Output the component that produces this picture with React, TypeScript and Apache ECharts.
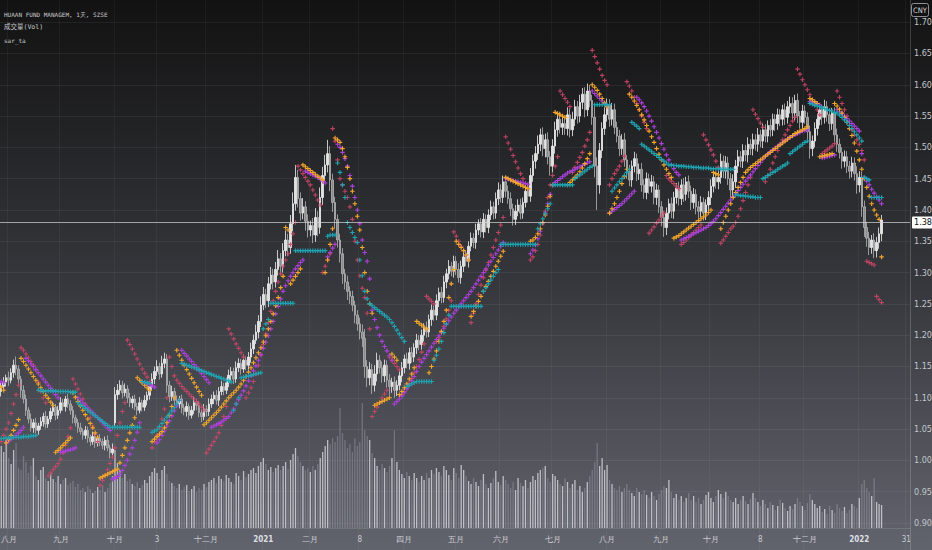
import React, { useEffect, useRef } from "react";
import * as echarts from "echarts";

// ---- price bars (daily) ----
const closes = [
  1.118, 1.125, 1.132, 1.128, 1.140, 1.152, 1.146, 1.130, 1.112, 1.098,
  1.080, 1.066, 1.052, 1.060, 1.048, 1.055, 1.062, 1.070, 1.058, 1.066,
  1.078, 1.085, 1.072, 1.080, 1.092, 1.086, 1.098, 1.090, 1.080, 1.068,
  1.060, 1.052, 1.046, 1.040, 1.048, 1.036, 1.030, 1.038, 1.028, 1.035,
  1.030, 1.024, 1.032, 1.020, 1.012, 1.018, 1.105, 1.112, 1.120, 1.108,
  1.114, 1.100, 1.092, 1.098, 1.086, 1.080, 1.092, 1.085, 1.096, 1.104,
  1.118, 1.130, 1.142, 1.150, 1.138, 1.155, 1.162, 1.120, 1.102, 1.110,
  1.096, 1.090, 1.098, 1.084, 1.078, 1.086, 1.072, 1.080, 1.092, 1.088,
  1.076, 1.070, 1.082, 1.078, 1.090, 1.098, 1.104, 1.096, 1.110, 1.118,
  1.112, 1.124, 1.136, 1.142, 1.130, 1.148, 1.155, 1.146, 1.160, 1.152,
  1.165, 1.178, 1.192, 1.205, 1.222, 1.248, 1.265, 1.255, 1.282, 1.296,
  1.285, 1.305, 1.322, 1.310, 1.335, 1.352, 1.340, 1.378, 1.410, 1.452,
  1.418, 1.395, 1.405, 1.382, 1.368, 1.375, 1.360, 1.388, 1.372, 1.420,
  1.455, 1.472, 1.490, 1.448, 1.412, 1.385, 1.352, 1.330, 1.298, 1.285,
  1.270, 1.262, 1.248, 1.232, 1.218, 1.205, 1.195, 1.150, 1.132, 1.145,
  1.120, 1.138, 1.160, 1.148, 1.135, 1.152, 1.128, 1.118, 1.125, 1.112,
  1.120, 1.135, 1.148, 1.162, 1.155, 1.172, 1.165, 1.180, 1.192, 1.185,
  1.200, 1.212, 1.205, 1.225, 1.240, 1.232, 1.255, 1.268, 1.260, 1.285,
  1.298, 1.310, 1.302, 1.318, 1.305, 1.292, 1.310, 1.325, 1.318, 1.342,
  1.355, 1.348, 1.368, 1.378, 1.365, 1.385, 1.372, 1.392, 1.405, 1.395,
  1.418, 1.432, 1.420, 1.445, 1.430, 1.418, 1.402, 1.385, 1.398, 1.408,
  1.395, 1.412, 1.430, 1.422, 1.455, 1.478, 1.490, 1.505, 1.520, 1.498,
  1.512, 1.485, 1.470, 1.502, 1.528, 1.545, 1.532, 1.538, 1.530, 1.552,
  1.528, 1.545, 1.565, 1.550, 1.572, 1.585, 1.560, 1.590, 1.575, 1.548,
  1.470, 1.440, 1.495, 1.530, 1.552, 1.568, 1.545, 1.560, 1.532, 1.518,
  1.498, 1.512, 1.480, 1.462, 1.448, 1.470, 1.482, 1.458, 1.465, 1.440,
  1.428, 1.450, 1.438, 1.445, 1.420, 1.432, 1.405, 1.388, 1.372, 1.395,
  1.410, 1.398, 1.420, 1.435, 1.418, 1.440, 1.425, 1.445, 1.430, 1.412,
  1.425, 1.405, 1.398, 1.412, 1.395, 1.408, 1.420, 1.438, 1.452, 1.445,
  1.452, 1.478, 1.462, 1.475, 1.450, 1.432, 1.445, 1.470, 1.485, 1.478,
  1.495, 1.488, 1.505, 1.498, 1.512, 1.505, 1.520, 1.510, 1.528, 1.518,
  1.535, 1.528, 1.545, 1.538, 1.552, 1.545, 1.560, 1.548, 1.565, 1.570,
  1.555, 1.575, 1.550, 1.540, 1.558, 1.548, 1.525, 1.498, 1.510, 1.530,
  1.545, 1.560, 1.548, 1.565, 1.552, 1.538, 1.555, 1.520, 1.505, 1.492,
  1.478, 1.485, 1.470, 1.462, 1.475, 1.458, 1.440, 1.452, 1.405, 1.372,
  1.355, 1.340, 1.352, 1.335, 1.348, 1.362, 1.384,
];

const opens = [
  1.110, 1.118, 1.125, 1.132, 1.128, 1.140, 1.152, 1.146, 1.130, 1.112,
  1.098, 1.080, 1.066, 1.052, 1.060, 1.048, 1.055, 1.062, 1.070, 1.058,
  1.066, 1.078, 1.085, 1.072, 1.080, 1.092, 1.086, 1.098, 1.090, 1.080,
  1.068, 1.060, 1.052, 1.046, 1.040, 1.048, 1.036, 1.030, 1.038, 1.028,
  1.035, 1.030, 1.024, 1.032, 1.020, 1.012, 1.060, 1.105, 1.112, 1.120,
  1.108, 1.114, 1.100, 1.092, 1.098, 1.086, 1.080, 1.092, 1.085, 1.096,
  1.104, 1.118, 1.130, 1.142, 1.150, 1.138, 1.155, 1.162, 1.120, 1.102,
  1.110, 1.096, 1.090, 1.098, 1.084, 1.078, 1.086, 1.072, 1.080, 1.092,
  1.088, 1.076, 1.070, 1.082, 1.078, 1.090, 1.098, 1.104, 1.096, 1.110,
  1.118, 1.112, 1.124, 1.136, 1.142, 1.130, 1.148, 1.155, 1.146, 1.160,
  1.152, 1.165, 1.178, 1.192, 1.205, 1.222, 1.248, 1.265, 1.255, 1.282,
  1.296, 1.285, 1.305, 1.322, 1.310, 1.335, 1.352, 1.340, 1.378, 1.410,
  1.452, 1.418, 1.395, 1.405, 1.382, 1.368, 1.375, 1.360, 1.388, 1.372,
  1.420, 1.455, 1.472, 1.490, 1.448, 1.412, 1.385, 1.352, 1.330, 1.298,
  1.285, 1.270, 1.262, 1.248, 1.232, 1.218, 1.205, 1.195, 1.150, 1.132,
  1.145, 1.120, 1.138, 1.160, 1.148, 1.135, 1.152, 1.128, 1.118, 1.125,
  1.112, 1.120, 1.135, 1.148, 1.162, 1.155, 1.172, 1.165, 1.180, 1.192,
  1.185, 1.200, 1.212, 1.205, 1.225, 1.240, 1.232, 1.255, 1.268, 1.260,
  1.285, 1.298, 1.310, 1.302, 1.318, 1.305, 1.292, 1.310, 1.325, 1.318,
  1.342, 1.355, 1.348, 1.368, 1.378, 1.365, 1.385, 1.372, 1.392, 1.405,
  1.395, 1.418, 1.432, 1.420, 1.445, 1.430, 1.418, 1.402, 1.385, 1.398,
  1.408, 1.395, 1.412, 1.430, 1.422, 1.455, 1.478, 1.490, 1.505, 1.520,
  1.498, 1.512, 1.485, 1.470, 1.502, 1.528, 1.545, 1.532, 1.538, 1.530,
  1.552, 1.528, 1.545, 1.565, 1.550, 1.572, 1.585, 1.560, 1.590, 1.575,
  1.548, 1.470, 1.440, 1.495, 1.530, 1.552, 1.568, 1.545, 1.560, 1.532,
  1.518, 1.498, 1.512, 1.480, 1.462, 1.448, 1.470, 1.482, 1.458, 1.465,
  1.440, 1.428, 1.450, 1.438, 1.445, 1.420, 1.432, 1.405, 1.388, 1.372,
  1.395, 1.410, 1.398, 1.420, 1.435, 1.418, 1.440, 1.425, 1.445, 1.430,
  1.412, 1.425, 1.405, 1.398, 1.412, 1.395, 1.408, 1.420, 1.438, 1.452,
  1.445, 1.452, 1.478, 1.462, 1.475, 1.450, 1.432, 1.445, 1.470, 1.485,
  1.478, 1.495, 1.488, 1.505, 1.498, 1.512, 1.505, 1.520, 1.510, 1.528,
  1.518, 1.535, 1.528, 1.545, 1.538, 1.552, 1.545, 1.560, 1.548, 1.565,
  1.570, 1.555, 1.575, 1.550, 1.540, 1.558, 1.548, 1.525, 1.498, 1.510,
  1.530, 1.545, 1.560, 1.548, 1.565, 1.552, 1.538, 1.555, 1.520, 1.505,
  1.492, 1.478, 1.485, 1.470, 1.462, 1.475, 1.458, 1.440, 1.452, 1.405,
  1.372, 1.355, 1.340, 1.352, 1.335, 1.348, 1.362,
];

// upper / lower wick lengths, in thousandths of CNY
const wickHi = [
  6, 8, 5, 10, 7, 9, 14, 6, 5, 8, 7, 5, 9, 6, 8, 5, 7, 6, 9, 5,
  6, 8, 5, 7, 9, 6, 5, 8, 6, 7, 5, 6, 8, 5, 7, 6, 5, 8, 6, 5,
  7, 5, 6, 8, 5, 9, 12, 10, 8, 7, 9, 6, 8, 5, 7, 6, 9, 5, 8, 6,
  7, 9, 8, 10, 6, 12, 10, 8, 7, 9, 6, 8, 5, 7, 6, 8, 5, 7, 9, 6,
  7, 5, 8, 6, 9, 7, 6, 8, 7, 9, 6, 8, 9, 7, 6, 10, 8, 7, 9, 6,
  8, 10, 9, 12, 10, 14, 12, 9, 11, 13, 10, 12, 14, 9, 12, 15, 10, 14, 18, 20,
  12, 10, 14, 9, 11, 8, 12, 15, 10, 16, 14, 16, 22, 12, 10, 9, 8, 10, 9, 8,
  10, 8, 9, 7, 8, 10, 12, 15, 10, 12, 9, 14, 12, 8, 10, 9, 8, 10, 7, 9,
  8, 10, 9, 7, 10, 8, 9, 7, 10, 8, 9, 7, 10, 8, 9, 7, 10, 8, 9, 10,
  8, 10, 7, 9, 8, 10, 9, 7, 10, 8, 9, 8, 10, 7, 9, 10, 8, 9, 10, 8,
  10, 12, 9, 10, 8, 9, 10, 8, 10, 9, 10, 8, 9, 10, 12, 10, 12, 14, 10, 12,
  10, 12, 9, 11, 13, 10, 12, 10, 9, 12, 10, 12, 11, 9, 12, 10, 11, 12, 10, 9,
  20, 14, 12, 10, 12, 10, 9, 11, 10, 9, 10, 9, 11, 8, 10, 9, 11, 8, 9, 10,
  9, 10, 8, 11, 9, 10, 8, 9, 10, 9, 8, 10, 9, 8, 10, 9, 11, 8, 10, 9,
  10, 8, 9, 10, 8, 9, 10, 11, 12, 9, 10, 12, 9, 11, 10, 9, 12, 10, 11, 9,
  10, 9, 11, 8, 10, 9, 11, 8, 10, 9, 8, 10, 9, 8, 10, 9, 8, 10, 9, 11,
  10, 9, 11, 8, 10, 9, 8, 10, 9, 10, 9, 10, 8, 11, 9, 10, 8, 9, 10, 9,
  8, 10, 9, 8, 10, 9, 12, 10, 9, 10, 9, 10, 8, 11, 9, 10, 8,
];

const wickLo = [
  8, 6, 7, 9, 5, 8, 10, 9, 12, 7, 9, 7, 6, 8, 5, 7, 6, 8, 7, 6,
  5, 7, 8, 6, 5, 7, 8, 6, 7, 9, 6, 8, 5, 7, 6, 8, 7, 5, 8, 6,
  7, 6, 8, 5, 9, 8, 6, 8, 7, 9, 6, 8, 7, 9, 6, 8, 5, 7, 6, 8,
  7, 6, 8, 7, 9, 6, 8, 12, 9, 7, 8, 6, 7, 9, 6, 8, 7, 5, 6, 8,
  7, 9, 6, 8, 7, 6, 8, 7, 9, 6, 8, 6, 7, 9, 8, 6, 7, 9, 6, 8,
  7, 9, 8, 6, 10, 9, 8, 12, 10, 9, 12, 9, 10, 13, 10, 9, 14, 10, 12, 11,
  14, 12, 10, 15, 12, 10, 13, 11, 14, 10, 12, 10, 12, 18, 15, 14, 12, 14, 16, 12,
  14, 12, 10, 13, 11, 12, 14, 18, 15, 12, 14, 10, 12, 9, 11, 10, 12, 14, 10, 12,
  9, 8, 10, 9, 8, 10, 9, 8, 10, 9, 8, 10, 9, 8, 10, 9, 8, 10, 9, 8,
  10, 9, 8, 10, 9, 8, 10, 9, 8, 10, 8, 9, 10, 8, 9, 10, 8, 9, 8, 10,
  9, 10, 8, 9, 10, 8, 12, 10, 9, 8, 10, 9, 8, 10, 9, 10, 12, 10, 11, 12,
  14, 12, 15, 10, 12, 11, 10, 12, 10, 11, 12, 10, 11, 12, 10, 11, 12, 10, 11, 12,
  18, 40, 14, 12, 10, 11, 12, 10, 11, 10, 12, 10, 11, 12, 10, 11, 10, 12, 10, 11,
  10, 11, 12, 10, 11, 12, 10, 14, 15, 12, 10, 11, 12, 10, 11, 10, 12, 10, 11, 12,
  10, 12, 11, 10, 12, 11, 10, 12, 10, 11, 12, 10, 11, 12, 10, 14, 12, 10, 11, 10,
  11, 10, 12, 10, 11, 10, 12, 10, 11, 10, 10, 11, 10, 12, 10, 11, 10, 12, 10, 11,
  10, 12, 11, 10, 12, 10, 14, 16, 12, 10, 11, 10, 12, 10, 11, 12, 10, 14, 12, 10,
  12, 10, 11, 12, 10, 11, 14, 12, 16, 15, 14, 12, 10, 12, 11, 10, 12,
];

// 成交量 (Vol), in 10k lots
const volumes = [
  82, 76, 88, 70, 64, 78, 85, 60, 58, 72,
  66, 55, 62, 70, 52, 48, 58, 61, 50, 47,
  55, 49, 46, 52, 44, 48, 50, 43, 45, 47,
  41, 44, 38, 40, 36, 42, 39, 35, 37, 41,
  38, 43, 36, 40, 45, 52, 78, 65, 58, 50,
  54, 47, 49, 44, 42, 46, 40, 43, 48, 45,
  52, 56, 60, 55, 49, 58, 62, 54, 47, 45,
  42, 40, 44, 38, 41, 43, 37, 39, 42, 36,
  40, 38, 44, 41, 46, 48, 50, 45, 52, 49,
  47, 53, 50, 46, 44, 55, 52, 48, 57, 51,
  54, 58, 60, 55, 62, 66, 70, 64, 58, 61,
  56, 60, 63, 58, 62, 66, 59, 68, 74, 80,
  72, 66, 62, 58, 60, 56, 62, 58, 64, 70,
  76, 82, 88, 84, 90, 86, 92, 120, 95, 88,
  80, 84, 76, 90, 82, 86, 125, 98, 92, 88,
  75, 70, 62, 58, 64, 60, 56, 62, 70, 98,
  66, 58, 54, 50, 56, 52, 48, 55, 50, 46,
  52, 48, 55, 50, 58, 54, 60, 56, 52, 62,
  58, 53, 48, 60, 55, 50, 63, 58, 52, 47,
  44, 50, 46, 42, 48, 54, 44, 40, 45, 50,
  57, 46, 43, 52, 48, 44, 40, 46, 38, 50,
  45, 42, 48, 40, 46, 52, 48, 55, 58, 60,
  62, 50, 46, 54, 52, 48, 44, 42, 50, 46,
  40, 44, 48, 38, 42, 36, 40, 46, 52, 58,
  66, 85, 62, 70, 58, 63, 48, 44, 40, 38,
  42, 36, 40, 44, 38, 35, 32, 40, 36, 34,
  38, 33, 30, 36, 32, 28, 34, 38, 42, 40,
  48, 36, 30, 34, 28, 32, 26, 30, 35, 28,
  32, 26, 30, 24, 28, 33, 36, 30, 26, 32,
  38, 34, 30, 36, 32, 28, 26, 30, 24, 28,
  32, 27, 24, 29, 35, 30, 26, 22, 28, 24,
  20, 26, 23, 18, 22, 28, 25, 20, 17, 22,
  19, 24, 30, 26, 22, 18, 25, 34, 28, 24,
  20, 22, 16, 19, 14, 22, 18, 15, 24, 20,
  17, 21, 15, 18, 24, 22, 20, 30, 44, 48,
  40, 36, 32, 50, 26, 24, 23,
];

// time axis: bar index of each label and its text
const tickIdx = [3, 24, 46, 63, 83, 106, 125, 145, 163, 184, 202, 223, 245, 267, 287, 307, 325, 347, 366];
const tickText = ["八月", "九月", "十月", "3", "十二月", "2021", "二月", "8", "四月", "五月", "六月", "七月", "八月", "九月", "十月", "8", "十二月", "2022", "31"];
const categoryCount = 368;
// price-axis labels that are shown (range of the visible scale)
const priceLabelMin = 0.9;
const priceLabelMax = 1.7;

// sar_ta: runs of [first bar index, values...]
const sarRedRuns: [number, number[]][] = [
  [0, [1.030, 1.040, 1.050, 1.060, 1.075, 1.090, 1.105, 1.120]],
  [8, [1.180, 1.176, 1.170, 1.164, 1.158, 1.152, 1.145, 1.125, 1.110, 1.100, 1.092]],
  [19, [0.975, 0.980, 0.985, 0.990, 0.995, 1.002, 1.012, 1.024, 1.038, 1.052]],
  [29, [1.130, 1.122, 1.114, 1.106, 1.098, 1.090, 1.080, 1.068, 1.055, 1.042, 1.030]],
  [40, [0.960, 0.968, 0.976, 0.985, 0.995, 1.005, 1.020, 1.040, 1.060, 1.078, 1.092]],
  [51, [1.192, 1.185, 1.178, 1.170, 1.162, 1.154, 1.146, 1.139, 1.133, 1.126]],
  [61, [1.020, 1.030, 1.040, 1.052, 1.066, 1.082, 1.100]],
  [68, [1.165, 1.150, 1.135, 1.128, 1.123, 1.118, 1.114, 1.110, 1.106, 1.102, 1.098, 1.094, 1.090, 1.085, 1.080]],
  [83, [1.012, 1.018, 1.024, 1.030, 1.037, 1.044, 1.056, 1.070, 1.086]],
  [92, [1.210, 1.202, 1.194, 1.186, 1.179, 1.172, 1.165]],
  [99, [1.100, 1.108, 1.116, 1.126, 1.138, 1.152, 1.168, 1.185, 1.202, 1.220, 1.238, 1.255, 1.270, 1.285, 1.298, 1.310, 1.320, 1.330, 1.345, 1.362, 1.380]],
  [120, [1.470, 1.464, 1.458, 1.452, 1.446, 1.440, 1.432, 1.424, 1.416, 1.408]],
  [130, [1.300, 1.310, 1.320, 1.330]],
  [134, [1.530, 1.510, 1.480, 1.450, 1.440, 1.430, 1.420, 1.405, 1.385, 1.350, 1.320, 1.295, 1.275, 1.260, 1.235, 1.210]],
  [150, [1.070, 1.078, 1.085, 1.092, 1.100, 1.106, 1.112]],
  [157, [1.165, 1.160, 1.155, 1.150, 1.145]],
  [162, [1.105, 1.110, 1.116, 1.123, 1.131, 1.140, 1.150, 1.161, 1.173, 1.186]],
  [172, [1.262, 1.258, 1.254, 1.250]],
  [176, [1.190, 1.196, 1.204, 1.214, 1.226, 1.240, 1.255]],
  [183, [1.365, 1.358, 1.350, 1.342, 1.335, 1.328, 1.320]],
  [190, [1.220, 1.235, 1.250, 1.265, 1.280, 1.292, 1.304, 1.316, 1.328, 1.340, 1.352, 1.364, 1.376, 1.388]],
  [204, [1.517, 1.507, 1.497, 1.487, 1.477, 1.467, 1.458, 1.450, 1.442, 1.434]],
  [214, [1.320, 1.325, 1.335, 1.345, 1.360, 1.378, 1.398, 1.420, 1.440, 1.455, 1.470, 1.485]],
  [226, [1.590, 1.584, 1.578, 1.572, 1.565]],
  [231, [1.460, 1.468, 1.476, 1.484, 1.492, 1.502, 1.512, 1.524]],
  [239, [1.655, 1.645, 1.635, 1.625, 1.615, 1.607, 1.600]],
  [246, [1.440, 1.450, 1.458, 1.464, 1.470, 1.478, 1.486]],
  [253, [1.605, 1.598, 1.590, 1.580, 1.570, 1.560, 1.550, 1.540, 1.530]],
  [262, [1.363, 1.368, 1.373, 1.379, 1.384, 1.390, 1.395]],
  [269, [1.455, 1.450, 1.446, 1.442, 1.438, 1.434]],
  [275, [1.345, 1.348, 1.352, 1.356, 1.360, 1.364, 1.368, 1.372, 1.376]],
  [284, [1.520, 1.512, 1.504, 1.496, 1.488, 1.478, 1.468]],
  [291, [1.347, 1.352, 1.358, 1.364, 1.370, 1.374, 1.380, 1.390, 1.402, 1.415, 1.428, 1.440, 1.452]],
  [304, [1.560, 1.553, 1.546, 1.539, 1.532]],
  [309, [1.445, 1.455, 1.465, 1.475, 1.485, 1.495, 1.505, 1.512, 1.520, 1.528, 1.535, 1.542, 1.548]],
  [322, [1.625, 1.617, 1.608, 1.600, 1.592, 1.584, 1.576, 1.568, 1.560, 1.552]],
  [332, [1.490, 1.493, 1.496, 1.499, 1.502, 1.506]],
  [338, [1.590, 1.580, 1.570, 1.560, 1.550, 1.535, 1.528, 1.520, 1.512, 1.505, 1.495, 1.480]],
  [350, [1.318, 1.316, 1.314, 1.312, 1.262, 1.257, 1.252]],
];

const sarPurpleRuns: [number, number[]][] = [
  [0, [1.126, 1.124]],
  [2, [1.028, 1.031, 1.034, 1.037, 1.040, 1.044, 1.048, 1.053]],
  [10, [1.163, 1.159, 1.154, 1.150, 1.145, 1.140, 1.135, 1.130, 1.125, 1.120, 1.115, 1.110, 1.105, 1.100]],
  [24, [1.013, 1.014, 1.015, 1.016, 1.017, 1.018, 1.020]],
  [31, [1.100, 1.096, 1.092, 1.088, 1.084, 1.080, 1.076, 1.072, 1.068, 1.064, 1.060, 1.056, 1.052, 1.048]],
  [45, [0.970, 0.972, 0.974, 0.978, 0.984, 0.992, 1.000, 1.010, 1.020, 1.032, 1.045, 1.060]],
  [57, [1.125, 1.124, 1.122, 1.121, 1.119, 1.117]],
  [63, [1.028, 1.033, 1.040, 1.047, 1.055, 1.063, 1.071, 1.079, 1.087, 1.096]],
  [73, [1.176, 1.171, 1.167, 1.162, 1.158, 1.153, 1.149, 1.144, 1.139, 1.134, 1.129, 1.124]],
  [85, [1.053, 1.055, 1.057, 1.059, 1.061, 1.064, 1.067, 1.070, 1.076, 1.082, 1.090, 1.097, 1.104, 1.111, 1.119, 1.127, 1.135, 1.143, 1.151, 1.160, 1.169, 1.179, 1.189, 1.199, 1.210, 1.222, 1.234, 1.246, 1.258, 1.270, 1.279, 1.287, 1.294, 1.300, 1.306, 1.311, 1.316, 1.320]],
  [123, [1.462, 1.460, 1.458, 1.456, 1.454, 1.452, 1.449, 1.446, 1.443]],
  [132, [1.325, 1.332, 1.339, 1.345]],
  [136, [1.505, 1.500, 1.492, 1.482, 1.470, 1.455, 1.438, 1.420, 1.400, 1.378, 1.352, 1.332, 1.318, 1.290, 1.240, 1.225, 1.212, 1.200, 1.190, 1.182, 1.175, 1.168, 1.160]],
  [159, [1.090, 1.094, 1.098, 1.103, 1.108, 1.114, 1.120, 1.127, 1.134, 1.142, 1.150, 1.157, 1.163, 1.169, 1.175, 1.181, 1.187, 1.193, 1.199, 1.205, 1.211, 1.217, 1.223, 1.229, 1.235, 1.240, 1.245, 1.250, 1.255, 1.260, 1.265, 1.270, 1.276, 1.282, 1.288, 1.294, 1.300, 1.306, 1.312, 1.318, 1.324, 1.330, 1.336, 1.342, 1.348]],
  [204, [1.450, 1.449, 1.448, 1.447, 1.446, 1.445, 1.444, 1.443, 1.442, 1.441]],
  [214, [1.330, 1.336, 1.344, 1.354, 1.366, 1.380, 1.395, 1.410, 1.425, 1.440, 1.444, 1.447, 1.450, 1.453, 1.456, 1.459, 1.461, 1.463, 1.465, 1.467, 1.469, 1.471, 1.473, 1.475, 1.477]],
  [239, [1.590, 1.586, 1.582, 1.578, 1.574, 1.570, 1.566]],
  [246, [1.395, 1.398, 1.401, 1.404, 1.407, 1.410, 1.414, 1.418, 1.422, 1.426, 1.430]],
  [257, [1.580, 1.576, 1.571, 1.565, 1.558, 1.550, 1.542, 1.533, 1.524, 1.515, 1.506, 1.497, 1.488, 1.480, 1.472, 1.466, 1.460, 1.456]],
  [275, [1.352, 1.354, 1.356, 1.358, 1.360, 1.362, 1.364, 1.366, 1.368, 1.370, 1.372, 1.375, 1.378, 1.382, 1.386, 1.391, 1.396, 1.401, 1.406, 1.411, 1.416, 1.421, 1.426, 1.431, 1.436, 1.441, 1.446, 1.451, 1.456, 1.461, 1.466, 1.471, 1.476, 1.481, 1.486, 1.490, 1.493, 1.496, 1.499, 1.502, 1.505, 1.508, 1.511, 1.514, 1.516, 1.518, 1.520, 1.522, 1.524, 1.526, 1.527, 1.528]],
  [327, [1.573, 1.572, 1.571, 1.570, 1.568]],
  [332, [1.483, 1.484, 1.485, 1.486, 1.487, 1.488]],
  [338, [1.560, 1.557, 1.554, 1.550, 1.546, 1.542, 1.538, 1.534, 1.530, 1.526, 1.490, 1.452, 1.446, 1.440, 1.433, 1.427, 1.421, 1.416, 1.410]],
];

const sarOrangeRuns: [number, number[]][] = [
  [0, [1.117, 1.112]],
  [2, [1.028, 1.033, 1.040, 1.048, 1.056, 1.065]],
  [8, [1.163, 1.158, 1.152, 1.146, 1.140, 1.134, 1.128, 1.122, 1.116, 1.110, 1.104, 1.099, 1.093, 1.088]],
  [22, [1.013, 1.016, 1.020, 1.024, 1.028, 1.032, 1.036]],
  [29, [1.108, 1.101, 1.094, 1.087, 1.080, 1.073, 1.066, 1.059, 1.052, 1.044, 1.037]],
  [40, [0.972, 0.974, 0.976, 0.978, 0.980, 0.982, 0.984, 0.986, 0.996, 1.008, 1.020, 1.032, 1.044, 1.056, 1.068]],
  [55, [1.132, 1.128, 1.124, 1.120, 1.116, 1.112]],
  [61, [1.030, 1.034, 1.038, 1.042, 1.046, 1.052, 1.060, 1.072, 1.086, 1.100]],
  [71, [1.176, 1.168, 1.160, 1.152, 1.145, 1.138, 1.131, 1.124, 1.117, 1.110, 1.104]],
  [82, [1.057, 1.060, 1.064, 1.068, 1.072, 1.076, 1.080, 1.085, 1.090, 1.095, 1.100, 1.104, 1.108, 1.112, 1.117, 1.122, 1.128, 1.134, 1.141, 1.148, 1.156, 1.164, 1.172, 1.180, 1.189, 1.199, 1.210, 1.222, 1.234, 1.247, 1.260, 1.276, 1.294]],
  [115, [1.372, 1.368]],
  [117, [1.282, 1.288, 1.294, 1.300, 1.306]],
  [122, [1.472, 1.469, 1.466, 1.463, 1.460, 1.457, 1.454, 1.451, 1.448]],
  [131, [1.300, 1.320, 1.345, 1.370]],
  [135, [1.515, 1.512, 1.508, 1.498, 1.485, 1.468, 1.450, 1.430, 1.410, 1.390, 1.368, 1.340, 1.300, 1.270, 1.250, 1.235]],
  [151, [1.088, 1.090, 1.092, 1.094, 1.096, 1.098, 1.100]],
  [158, [1.170, 1.165, 1.160]],
  [161, [1.105, 1.110, 1.116, 1.122, 1.130, 1.138, 1.148]],
  [168, [1.222, 1.219, 1.216, 1.213, 1.210]],
  [173, [1.140, 1.150, 1.162, 1.175, 1.190, 1.206, 1.222, 1.240, 1.260, 1.282, 1.305]],
  [184, [1.350, 1.345, 1.340, 1.335, 1.328, 1.320]],
  [190, [1.230, 1.238, 1.246, 1.254, 1.262, 1.270, 1.278, 1.286, 1.294, 1.302, 1.310, 1.318, 1.326, 1.334]],
  [204, [1.452, 1.450, 1.448, 1.446, 1.444, 1.442, 1.440, 1.438, 1.436, 1.434]],
  [214, [1.350, 1.352, 1.356, 1.362, 1.370, 1.380, 1.392, 1.406, 1.422, 1.440]],
  [224, [1.556, 1.554, 1.552, 1.550, 1.548]],
  [229, [1.440, 1.444, 1.448, 1.452, 1.456, 1.461, 1.467, 1.474, 1.482, 1.490]],
  [239, [1.600, 1.596, 1.591, 1.585, 1.578, 1.571, 1.565]],
  [246, [1.395, 1.402, 1.410, 1.420, 1.430, 1.442, 1.453, 1.465]],
  [254, [1.585, 1.580, 1.574, 1.567, 1.560, 1.552, 1.544, 1.535, 1.526, 1.517, 1.508, 1.498, 1.489, 1.480, 1.472, 1.465, 1.458, 1.452]],
  [272, [1.355, 1.357, 1.359, 1.362, 1.365, 1.368, 1.371, 1.374, 1.377, 1.380, 1.383, 1.386, 1.389, 1.392, 1.396, 1.400]],
  [288, [1.460, 1.458, 1.456]],
  [291, [1.370, 1.380, 1.390, 1.400, 1.410, 1.420, 1.428, 1.436, 1.444, 1.452, 1.460, 1.464, 1.468, 1.471, 1.474, 1.477, 1.480, 1.483, 1.486, 1.489, 1.492, 1.495, 1.498, 1.501, 1.504, 1.507, 1.510, 1.513, 1.516, 1.519, 1.522, 1.524, 1.526, 1.528, 1.530, 1.533]],
  [327, [1.578, 1.576, 1.573, 1.570]],
  [331, [1.485, 1.486, 1.487, 1.488, 1.489, 1.490]],
  [337, [1.570, 1.566, 1.561, 1.555, 1.548, 1.540, 1.530, 1.519, 1.507, 1.494, 1.480, 1.465, 1.450, 1.436, 1.422, 1.410, 1.400, 1.392, 1.385]],
  [356, [1.325]],
];

const sarTealRuns: [number, number[]][] = [
  [0, [1.035, 1.035, 1.036, 1.036, 1.036, 1.037, 1.037, 1.037, 1.037, 1.038, 1.038, 1.038, 1.039, 1.039, 1.040]],
  [15, [1.112, 1.112, 1.111, 1.111, 1.111, 1.111, 1.111, 1.111, 1.110, 1.110, 1.110, 1.110, 1.110, 1.109, 1.109, 1.109]],
  [31, [1.092, 1.089, 1.086, 1.083, 1.080, 1.077, 1.074, 1.071, 1.068, 1.065, 1.062, 1.059, 1.056, 1.053]],
  [45, [1.053, 1.053, 1.053, 1.053, 1.053, 1.053, 1.053, 1.053, 1.053, 1.053, 1.053, 1.053]],
  [57, [1.126, 1.125, 1.124, 1.123]],
  [61, [1.045, 1.047, 1.049, 1.054, 1.059, 1.064, 1.069, 1.074, 1.079, 1.084, 1.090, 1.096]],
  [73, [1.155, 1.154, 1.152, 1.151, 1.149, 1.148, 1.146, 1.145, 1.143, 1.142, 1.140, 1.139, 1.137, 1.136, 1.134, 1.133, 1.131, 1.130, 1.128, 1.127, 1.125]],
  [94, [1.080, 1.090, 1.100, 1.132, 1.133, 1.134, 1.135, 1.136, 1.137, 1.138, 1.139, 1.140]],
  [106, [1.210, 1.218, 1.225]],
  [109, [1.251, 1.251, 1.251, 1.251, 1.251, 1.251, 1.251, 1.251, 1.251, 1.251]],
  [119, [1.335, 1.335, 1.335, 1.335, 1.335, 1.335, 1.335, 1.335, 1.335, 1.335, 1.335, 1.335, 1.335]],
  [132, [1.358, 1.360, 1.360, 1.360]],
  [136, [1.475, 1.460, 1.440, 1.420, 1.380, 1.372, 1.364, 1.356, 1.348, 1.320, 1.295, 1.270, 1.258, 1.250, 1.247, 1.244, 1.241, 1.238, 1.235, 1.232, 1.229, 1.225, 1.220, 1.214, 1.208, 1.202, 1.196, 1.190]],
  [164, [1.118, 1.120, 1.122, 1.124, 1.126, 1.126, 1.126, 1.126, 1.126, 1.126, 1.126, 1.160]],
  [176, [1.168, 1.178, 1.190, 1.204, 1.218, 1.232, 1.246, 1.246, 1.246, 1.246, 1.246, 1.246, 1.246, 1.246, 1.246, 1.246, 1.246, 1.246, 1.246]],
  [195, [1.270, 1.276, 1.282, 1.288, 1.294, 1.300, 1.305]],
  [202, [1.345, 1.345, 1.345, 1.345, 1.345, 1.345, 1.345, 1.345, 1.345, 1.345, 1.345, 1.345, 1.345, 1.345, 1.345]],
  [217, [1.370, 1.378, 1.386, 1.394, 1.402, 1.410]],
  [223, [1.440, 1.440, 1.440, 1.440, 1.440, 1.440, 1.440, 1.440, 1.440]],
  [232, [1.450, 1.453, 1.456, 1.459, 1.462, 1.465, 1.468, 1.470]],
  [240, [1.568, 1.568, 1.568, 1.568, 1.568, 1.568, 1.568]],
  [247, [1.430, 1.435, 1.440, 1.445, 1.450, 1.455, 1.460, 1.465]],
  [255, [1.540, 1.537, 1.534, 1.530]],
  [259, [1.505, 1.502, 1.499, 1.496, 1.493, 1.490, 1.487, 1.484, 1.481, 1.478, 1.475]],
  [270, [1.472, 1.472, 1.471, 1.471, 1.470, 1.470, 1.470, 1.469, 1.469, 1.469, 1.468, 1.468, 1.468, 1.467, 1.467, 1.467, 1.467, 1.466, 1.466, 1.466, 1.466, 1.465, 1.465, 1.465, 1.465, 1.465, 1.465]],
  [297, [1.424, 1.424, 1.423, 1.423, 1.422, 1.422, 1.421, 1.421, 1.420, 1.420, 1.420]],
  [308, [1.450, 1.452, 1.455, 1.457, 1.460, 1.462, 1.465, 1.467, 1.470, 1.472, 1.475]],
  [319, [1.490, 1.493, 1.496, 1.499, 1.502, 1.505, 1.508, 1.510]],
  [327, [1.570, 1.569, 1.567, 1.566, 1.565, 1.563, 1.562, 1.560, 1.559, 1.558, 1.556, 1.555]],
  [339, [1.552, 1.548, 1.544, 1.540, 1.535, 1.530, 1.525, 1.520, 1.515, 1.510]],
  [349, [1.452, 1.450, 1.448]],
  [352, [1.420, 1.420, 1.420, 1.420, 1.420]],
];

const FONT_NARROW = "'Liberation Sans Narrow', 'DejaVu Sans Condensed', 'Liberation Sans', sans-serif";
const CROSS = "path://M0 1.5H4V2.5H0Z M1.5 0H2.5V4H1.5Z";

function placeRuns(runs: [number, number[]][]) {
  const arr: (number | string)[] = closes.map(() => "-");
  for (const [start, vals] of runs) {
    vals.forEach((v, j) => {
      arr[start + j] = v;
    });
  }
  return arr;
}

export default function App() {
  const ref = useRef<HTMLDivElement>(null);

  useEffect(() => {
    if (!ref.current) return;
    const chart = echarts.init(ref.current, null, { renderer: "svg" });

    const cats = Array.from({ length: categoryCount }, (_, i) => String(i));
    const tickMap = new Map<number, string>();
    tickIdx.forEach((k, j) => tickMap.set(k, tickText[j]));

    const candleData = closes.map((c, i) => {
      const o = opens[i];
      return [o, c, Math.min(o, c) - wickLo[i] / 1000, Math.max(o, c) + wickHi[i] / 1000];
    });
    const volData = volumes.map((v, i) => ({
      value: v,
      itemStyle: {
        color: closes[i] >= opens[i] ? "rgba(212,214,220,0.82)" : "rgba(165,167,176,0.42)",
      },
    }));
    const lastClose = closes[closes.length - 1];

    const sarSeries = (name: string, runs: [number, number[]][], color: string, opacity: number) => ({
      name,
      type: "scatter",
      xAxisIndex: 0,
      yAxisIndex: 0,
      symbol: CROSS,
      symbolSize: 4.5,
      z: 4,
      silent: true,
      itemStyle: { color, opacity },
      data: placeRuns(runs),
    });

    chart.setOption({
      animation: false,
      backgroundColor: "transparent",
      grid: [
        { left: 0, right: 22, top: -9.13, height: 563.4, outerBoundsMode: "none", containLabel: false },
        { left: 0, right: 22, top: 388, height: 140, outerBoundsMode: "none", containLabel: false },
      ],
      xAxis: [
        {
          type: "category",
          gridIndex: 0,
          data: cats,
          axisLine: { show: false },
          axisTick: { show: false },
          axisLabel: { show: false },
          splitLine: {
            show: true,
            interval: (i: number) => tickMap.has(i),
            lineStyle: { color: "rgba(255,255,255,0.045)", width: 1 },
          },
        },
        {
          type: "category",
          gridIndex: 1,
          data: cats,
          axisLine: { show: true, lineStyle: { color: "rgba(255,255,255,0.12)" } },
          axisTick: { show: false },
          splitLine: { show: false },
          axisLabel: {
            interval: (i: number) => tickMap.has(i),
            formatter: (v: string) => {
              const t = tickMap.get(Number(v));
              if (!t) return "";
              return /^20\d\d$/.test(t) ? `{y|${t}}` : t;
            },
            color: "#c9cbd1",
            fontSize: 8,
            margin: 7,
            fontFamily: FONT_NARROW,
            rich: { y: { fontWeight: "bold", fontSize: 8, color: "#dcdee3", fontFamily: FONT_NARROW } },
          },
        },
      ],
      yAxis: [
        {
          type: "value",
          gridIndex: 0,
          position: "right",
          min: 0.85,
          max: 1.75,
          interval: 0.05,
          axisLine: { show: true, lineStyle: { color: "rgba(255,255,255,0.14)" } },
          axisTick: { show: false },
          axisLabel: {
            color: "#c2c4ca",
            fontSize: 9,
            margin: 4,
            fontFamily: FONT_NARROW,
            formatter: (v: number) =>
              v < priceLabelMin - 0.001 || v > priceLabelMax + 0.001 ? "" : v.toFixed(2),
          },
          splitLine: { show: true, lineStyle: { color: "rgba(255,255,255,0.06)" } },
        },
        { type: "value", gridIndex: 1, min: 0, max: 140, show: false, splitLine: { show: false } },
      ],
      series: [
        {
          name: "Vol",
          type: "bar",
          xAxisIndex: 1,
          yAxisIndex: 1,
          barWidth: 1.3,
          silent: true,
          z: 1,
          data: volData,
        },
        {
          name: "HUAAN",
          type: "candlestick",
          xAxisIndex: 0,
          yAxisIndex: 0,
          barWidth: 2,
          z: 2,
          silent: true,
          itemStyle: {
            color: "#e2e2e2",
            color0: "#8c8c8c",
            borderColor: "#f0f0f0",
            borderColor0: "#b4b4b4",
            borderWidth: 0.8,
          },
          data: candleData,
          markLine: {
            symbol: "none",
            silent: true,
            data: [{ yAxis: lastClose }],
            lineStyle: { color: "rgba(214,214,214,0.7)", width: 1, type: "solid" },
            label: {
              show: true,
              position: "end",
              distance: 2,
              formatter: (p: any) => Number(p.value).toFixed(2),
              backgroundColor: "#ffffff",
              color: "#111111",
              fontSize: 9,
              fontFamily: FONT_NARROW,
              padding: [2, 2, 1, 2],
              borderRadius: 1,
            },
          },
        },
        sarSeries("sar1", sarRedRuns, "#cc4667", 0.9),
        sarSeries("sar2", sarPurpleRuns, "#ad40dc", 1),
        sarSeries("sar3", sarOrangeRuns, "#f4a62a", 1),
        sarSeries("sar4", sarTealRuns, "#1ea5b3", 1),
      ],
      graphic: [
        {
          type: "text",
          left: 4,
          top: 11,
          style: { text: "HUAAN FUND MANAGEM, 1天, SZSE", fill: "#c9cacd", fontSize: 6, fontFamily: "'DejaVu Sans Mono', monospace" },
        },
        {
          type: "text",
          left: 4,
          top: 24,
          style: { text: "成交量(Vol)", fill: "#c9cacd", fontSize: 6.5, fontFamily: "'DejaVu Sans Mono', 'Noto Sans CJK SC', monospace" },
        },
        {
          type: "text",
          left: 4,
          top: 37.5,
          style: { text: "sar_ta", fill: "#c9cacd", fontSize: 6, fontFamily: "'DejaVu Sans Mono', monospace" },
        },
        {
          type: "group",
          right: 3,
          top: 3,
          children: [
            {
              type: "rect",
              shape: { x: 0, y: 0, width: 17, height: 13, r: 2 },
              style: { fill: "#121212", stroke: "#8d8f95", lineWidth: 1 },
            },
            {
              type: "text",
              x: 8.5,
              y: 7,
              style: { text: "CNY", fill: "#d2d4d8", fontSize: 7.5, fontFamily: FONT_NARROW, align: "center", verticalAlign: "middle" },
            },
          ],
        },
      ],
    });

    return () => chart.dispose();
  }, []);

  return (
    <div
      ref={ref}
      style={{
        position: "fixed",
        left: 0,
        top: 0,
        width: 932,
        height: 550,
        background: "linear-gradient(to bottom, #121212 0%, #35363b 50%, #62646d 100%)",
      }}
    />
  );
}
